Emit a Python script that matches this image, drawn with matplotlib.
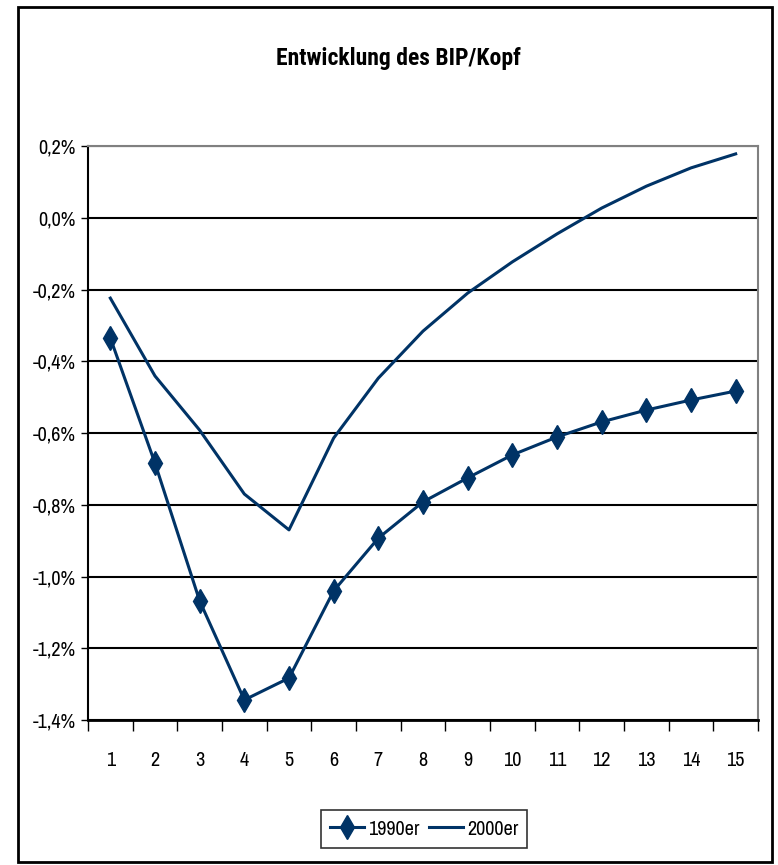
import numpy as np
import matplotlib.pyplot as plt
from matplotlib.patches import Rectangle
from matplotlib.ticker import FixedLocator, FuncFormatter

plt.rcParams['font.family'] = ['Archivo Narrow', 'Liberation Sans', 'DejaVu Sans']

jahre = list(range(1, 16))
bip_1990er = [-0.335, -0.684, -1.068, -1.344, -1.283, -1.040, -0.893, -0.792,
              -0.725, -0.661, -0.611, -0.569, -0.536, -0.508, -0.483]
bip_2000er = [-0.224, -0.441, -0.592, -0.770, -0.870, -0.614, -0.447, -0.316,
              -0.210, -0.123, -0.045, 0.027, 0.088, 0.139, 0.178]
y_ticks = [0.2, 0.0, -0.2, -0.4, -0.6, -0.8, -1.0, -1.2, -1.4]

farbe = '#003366'

fig = plt.figure(figsize=(7.78, 8.65), dpi=100)
ax = fig.add_axes([0.1131, 0.1676, 0.8612, 0.6636])

ax.plot(jahre, bip_1990er, color=farbe, lw=2.2, marker='d', ms=12, label='1990er')
ax.plot(jahre, bip_2000er, color=farbe, lw=2.2, label='2000er')

ax.set_xlim(0.5, 15.5)
ax.set_ylim(-1.4, 0.2)
ax.xaxis.set_major_locator(FixedLocator(np.arange(0.5, 16, 1)))
ax.xaxis.set_major_formatter(FuncFormatter(lambda v, p: ''))
ax.xaxis.set_minor_locator(FixedLocator(jahre))
ax.xaxis.set_minor_formatter(FuncFormatter(lambda v, p: '%d' % v))
ax.tick_params(axis='x', which='major', direction='out', length=8, width=1, color='black')
ax.tick_params(axis='x', which='minor', length=0, pad=22, labelsize=14.5)

ax.yaxis.set_major_locator(FixedLocator(y_ticks))
ax.yaxis.set_major_formatter(FuncFormatter(lambda v, p: ('%.1f%%' % v).replace('.', ',').replace('-0,0', '0,0')))
ax.tick_params(axis='y', direction='out', length=5, width=1, labelsize=14.5, pad=4)

ax.grid(axis='y', color='black', lw=1.5)
ax.set_axisbelow(True)
ax.spines['left'].set_linewidth(1.5)
ax.spines['bottom'].set_linewidth(2)
ax.spines['top'].set_color('#808080')
ax.spines['right'].set_color('#808080')
ax.spines['top'].set_linewidth(1.5)
ax.spines['right'].set_linewidth(1.5)

fig.text(0.512, 0.932, 'Entwicklung des BIP/Kopf', ha='center', va='center',
         fontsize=17, fontweight='bold', family=['Roboto Condensed', 'PT Sans Narrow', 'DejaVu Sans'])

leg = fig.legend(loc='center', bbox_to_anchor=(0.545, 0.0416), ncol=2, fontsize=14.5,
                 frameon=True, fancybox=False, edgecolor='black', handlelength=1.7,
                 columnspacing=0.45, handletextpad=0.2, borderpad=0.45)
leg.get_frame().set_linewidth(1.2)

fig.patches.append(Rectangle((18 / 778, 1 - 862 / 865), 754 / 778, 855 / 865,
                             transform=fig.transFigure, fill=False, lw=2, ec='black'))

plt.savefig('out.png', dpi=100)
